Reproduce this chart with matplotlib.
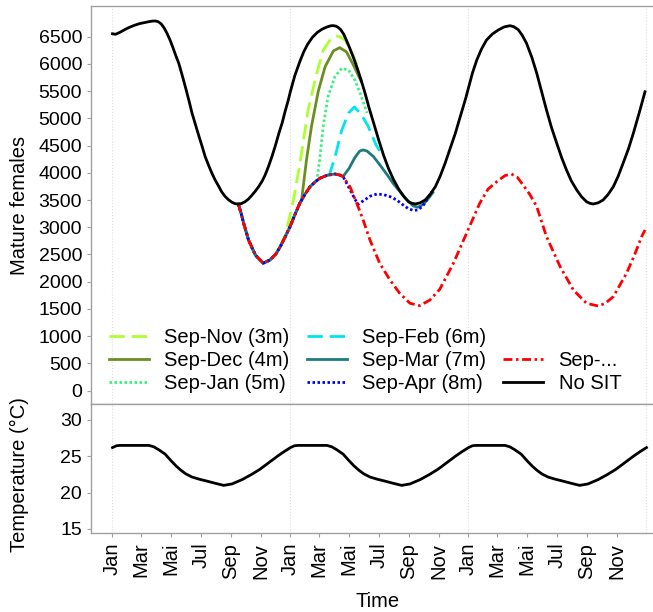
import numpy as np
import matplotlib
matplotlib.use("Agg")
import matplotlib.pyplot as plt
from matplotlib.lines import Line2D

plt.rcParams["font.family"] = ["Liberation Sans", "DejaVu Sans"]

# --- simulated mature females (days since 1 Jan of year 1) ---
no_sit_days = [0, 6, 15, 25, 35, 45, 55, 65, 75, 82, 88, 94, 100, 106, 112, 118, 124, 130,
               136, 143, 150, 157, 163, 170, 177, 184, 190, 197, 204, 211, 218, 224,
               231, 238, 245, 251, 257, 264, 272, 279, 286, 293, 300, 307, 313, 320,
               327, 334, 341, 348, 354, 360, 365,
               374, 384, 392, 400, 410, 420, 430, 440, 447, 452, 458, 463, 468, 474,
               480, 487, 494, 502, 510, 518, 526, 536, 546, 556, 566, 576, 587, 597,
               607, 614, 621, 631, 641, 651, 662, 672, 682, 692, 703, 710, 717, 724, 730,
               738, 747, 757, 767, 779, 791, 803, 815, 823, 832, 840, 849, 860, 870,
               880, 890, 900, 911, 921, 931, 941, 952, 962, 972, 979, 986, 996, 1006,
               1016, 1027, 1037, 1047, 1058, 1068, 1080, 1092]
no_sit_vals = [6555, 6545, 6580, 6630, 6675, 6710, 6740, 6760, 6778, 6788, 6790, 6775, 6735, 6660, 6560, 6440, 6300, 6150,
               6010, 5790, 5560, 5320, 5100, 4890, 4680, 4480, 4300, 4140, 3990, 3860, 3750, 3650,
               3565, 3505, 3460, 3435, 3425, 3435, 3470, 3520, 3590, 3665, 3750, 3850, 3960, 4120,
               4300, 4500, 4720, 4920, 5130, 5320, 5500,
               5790, 6040, 6220, 6360, 6490, 6580, 6640, 6680, 6700, 6705, 6695, 6670, 6630, 6550,
               6430, 6280, 6120, 5920, 5700, 5460, 5200, 4900, 4600, 4320, 4080, 3880, 3700, 3570,
               3470, 3440, 3428, 3450, 3500, 3600, 3745, 3940, 4175, 4440, 4726, 4940, 5150, 5360, 5560,
               5830, 6073, 6280, 6440, 6550, 6624, 6680, 6703, 6685, 6630, 6530, 6380, 6120, 5829,
               5490, 5154, 4840, 4543, 4280, 4052, 3850, 3685, 3560, 3470, 3440, 3428, 3450, 3501,
               3600, 3745, 3940, 4175, 4440, 4726, 5100, 5490]

# common trajectory of all SIT scenarios before they separate
shared_days = [258, 264, 269, 279, 293, 309, 323, 335, 344, 355, 364, 374, 384,
               395, 405, 415, 425, 440, 456, 466, 473]
shared_vals = [3430, 3250, 3073, 2766, 2490, 2340, 2400, 2510, 2643, 2840, 3011, 3230, 3440,
               3610, 3745, 3830, 3900, 3955, 3979, 3960, 3929]

# Sep-... (release never stopped), continues after the shared part
sep_all_days = [487, 501, 514, 528, 548, 569, 589, 610, 630, 651, 671, 699, 726,
                753, 770, 788, 805, 818, 830, 842, 856, 870, 890, 918, 945, 972,
                996, 1010, 1027, 1054, 1070, 1085, 1092]
sep_all_vals = [3745, 3440, 3134, 2766, 2338, 2032, 1787, 1604, 1560, 1664, 1860, 2338, 2889,
                3440, 3700, 3838, 3950, 3979, 3920, 3777, 3600, 3378, 2827, 2276, 1848, 1604,
                1554, 1600, 1725, 2154, 2480, 2827, 2950]

# scenario branches: (days, values) after leaving the shared curve
nov_days = [355, 371, 384, 401, 418, 432, 449, 463, 477, 493, 505]
nov_vals = [2870, 3500, 4150, 5150, 5800, 6250, 6480, 6514, 6440, 6170, 5900]

dec_days = [384, 388, 398, 408, 422, 436, 453, 466, 480, 494, 510]
dec_vals = [3440, 3520, 4250, 4850, 5500, 5950, 6240, 6300, 6220, 5980, 5680]

jan_days = [419, 425, 432, 442, 456, 470, 484, 497, 508, 522]
jan_vals = [3860, 4250, 4848, 5400, 5766, 5920, 5889, 5705, 5461, 5100]

feb_days = [445, 458, 470, 484, 496, 511, 524, 540, 555]
feb_vals = [3968, 4350, 4780, 5100, 5210, 5060, 4860, 4520, 4300]

mar_days = [473, 485, 497, 507, 514, 522, 535, 548, 562, 576, 590, 603, 617, 627,
            637, 647, 657]
mar_vals = [3935, 4080, 4280, 4400, 4420, 4400, 4300, 4150, 3980, 3800, 3650, 3510, 3390, 3370,
            3420, 3520, 3640]

apr_days = [503, 515, 528, 542, 556, 570, 583, 596, 607, 617, 627, 637, 647, 655]
apr_vals = [3420, 3490, 3570, 3610, 3600, 3560, 3500, 3410, 3340, 3310, 3320, 3400, 3540, 3650]

# --- temperature forcing over one year (same every year) ---
temp_days = [0, 8, 15, 75, 85, 95, 108, 120, 130, 140, 150, 163, 178, 193, 210,
             228, 245, 266, 285, 302, 320, 339, 352]
temp_vals = [26.2, 26.45, 26.5, 26.5, 26.3, 25.9, 25.3, 24.4, 23.7, 23.1, 22.6, 22.15, 21.85, 21.6, 21.3,
             21.0, 21.2, 21.8, 22.5, 23.2, 24.1, 25.05, 25.65]

month_labels = ["Jan", "Mar", "Mai", "Jul", "Sep", "Nov"]
month_days = [0, 59, 120, 181, 243, 304]
n_years = 3


def with_shared(days, vals):
    """Prefix a scenario branch with the shared trajectory up to its start."""
    keep = [i for i, d in enumerate(shared_days) if d < days[0]]
    return ([shared_days[i] for i in keep] + days,
            [shared_vals[i] for i in keep] + vals)


scenarios = [
    ("Sep-Nov (3m)", nov_days, nov_vals, "#ADFF2F", (5.5, 2.5)),
    ("Sep-Dec (4m)", dec_days, dec_vals, "#6B8E23", None),
    ("Sep-Jan (5m)", jan_days, jan_vals, "#3CF07E", (0.9, 0.9)),
    ("Sep-Feb (6m)", feb_days, feb_vals, "#00E5EE", (5.5, 2.5)),
    ("Sep-Mar (7m)", mar_days, mar_vals, "#1E7B7E", None),
    ("Sep-Apr (8m)", apr_days, apr_vals, "#0000FF", (0.9, 0.9)),
]

fig = plt.figure(figsize=(6.53, 6.12), dpi=100)
ax = fig.add_axes([0.1394, 0.3399, 0.879, 0.6503])
ax2 = fig.add_axes([0.1394, 0.1291, 0.879, 0.2108])

lw = 2.0
line_kw = dict(lw=lw, solid_joinstyle="round", dash_joinstyle="round")
handles = []
for label, d, v, color, dash in scenarios:
    x, y = with_shared(d, v)
    line, = ax.plot(x, y, color=color, label=label, **line_kw)
    if dash is not None:
        line.set_dashes(dash)
    handles.append(line)

handles.append(Line2D([], [], color="none", label=" "))

x_all = shared_days + sep_all_days
y_all = shared_vals + sep_all_vals
red, = ax.plot(x_all, y_all, color="#FF0000", label="Sep-...", **line_kw)
red.set_dashes((3.2, 1.3, 0.9, 1.3))
handles.append(red)

black, = ax.plot(no_sit_days, no_sit_vals, color="black", label="No SIT", **line_kw)
handles.append(black)

# temperature repeated for each simulated year
t_days = np.concatenate([np.array(temp_days) + 365 * k for k in range(n_years)] + [[1095]])
t_vals = np.concatenate([temp_vals] * n_years + [[temp_vals[0]]])
ax2.plot(t_days, t_vals, color="black", **line_kw)

ticks = [d + 365 * k for k in range(n_years) for d in month_days]
tick_labels = month_labels * n_years

spine_col = "#A0A0A0"
for a in (ax, ax2):
    a.set_xlim(-44, 1133)
    for d in range(0, 365 * n_years + 1, 365):
        a.axvline(d, color="#DDDDDD", lw=0.8, ls=":", zorder=0)
    for s in a.spines.values():
        s.set_color(spine_col)
        s.set_linewidth(1.0)
    a.spines["right"].set_visible(False)
    a.tick_params(colors=spine_col, labelcolor="black", labelsize=14, length=3, width=0.8)

ax.set_ylim(-246, 7065)
ax.set_yticks(np.arange(0, 6501, 500))
ax.set_xticks([])
ax.set_ylabel("Mature females", fontsize=14.5)
ax.yaxis.set_label_coords(-0.108, 0.5)

ax2.set_ylim(14.45, 32.2)
ax2.set_yticks([15, 20, 25, 30])
ax2.set_xticks(ticks)
ax2.set_xticklabels(tick_labels, rotation=90, fontsize=14.5)
ax2.tick_params(axis="x", pad=4)
ax2.set_ylabel("Temperature (°C)", fontsize=14.5)
ax2.yaxis.set_label_coords(-0.108, 0.45)
ax2.set_xlabel("Time", fontsize=14.5)
ax2.xaxis.set_label_coords(0.5, -0.46)

ax.legend(handles=handles, ncol=3, frameon=False, fontsize=14.5,
          loc="upper left", bbox_to_anchor=(0.031, 0.19), borderpad=0,
          borderaxespad=0, handlelength=2.0, handletextpad=0.75,
          columnspacing=0.85, labelspacing=0.2)

fig.savefig("out.png", dpi=100)
